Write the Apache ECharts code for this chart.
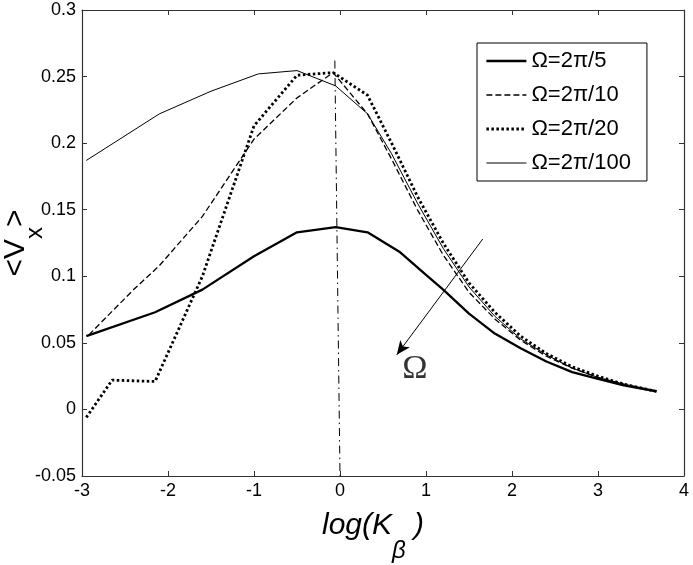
<!DOCTYPE html>
<html lang="en">
<head>
    <meta charset="UTF-8">
    <title>Vx vs log(K)</title>
    <style>
        html, body { margin: 0; padding: 0; background: #fff; }
        #main { width: 693px; height: 565px; }
    </style>
    <script src="https://cdn.jsdelivr.net/npm/echarts@6/dist/echarts.min.js"></script>
</head>
<body>
<div id="main"></div>
<script type="text/javascript">
    // values
    var xs5 = [-2.95, -2.15, -1.6, -1.0, -0.5, -0.05, 0.32, 0.7, 1.0, 1.2, 1.5, 1.8, 2.1, 2.4, 2.7, 3.0, 3.3, 3.68];
    var v5 = [0.055, 0.073, 0.09, 0.115, 0.133, 0.137, 0.133, 0.118, 0.101, 0.09, 0.072, 0.057, 0.046, 0.036, 0.028, 0.023, 0.018, 0.0135];

    var xs10 = [-2.92, -2.4, -2.1, -1.6, -1.0, -0.5, -0.08, 0.32, 0.6, 0.9, 1.2, 1.5, 1.8, 2.1, 2.4, 2.7, 3.0, 3.3, 3.68];
    var v10 = [0.056, 0.09, 0.108, 0.145, 0.203, 0.234, 0.253, 0.222, 0.188, 0.15, 0.116, 0.088, 0.068, 0.052, 0.040, 0.031, 0.024, 0.019, 0.0135];

    var xs20 = [-2.95, -2.65, -2.15, -1.6, -1.0, -0.5, -0.08, 0.32, 0.6, 0.9, 1.2, 1.5, 1.8, 2.1, 2.4, 2.7, 3.0, 3.3, 3.68];
    var v20 = [-0.006, 0.022, 0.021, 0.1, 0.213, 0.251, 0.253, 0.236, 0.2, 0.16, 0.125, 0.095, 0.073, 0.055, 0.042, 0.032, 0.025, 0.019, 0.0135];

    var xs100 = [-2.95, -2.1, -1.5, -0.95, -0.5, -0.05, 0.32, 0.6, 0.9, 1.2, 1.5, 1.8, 2.1, 2.4, 2.7, 3.0, 3.3, 3.68];
    var v100 = [0.187, 0.222, 0.239, 0.252, 0.2545, 0.243, 0.222, 0.192, 0.155, 0.121, 0.092, 0.07, 0.053, 0.041, 0.031, 0.024, 0.019, 0.014];

    var names = ['Ω=2π/5', 'Ω=2π/10', 'Ω=2π/20', 'Ω=2π/100'];

    // vertical dash-dot marker and the arrow
    var refX = [-0.06, 0.0];
    var refY = [0.262, -0.05];
    var arrowX = [1.66, 0.66];
    var arrowY = [0.128, 0.041];
    var omegaPos = [0.87, 0.03];

    function pairs(xs, ys) {
        var out = [];
        for (var i = 0; i < xs.length; i++) out.push([xs[i], ys[i]]);
        return out;
    }

    var myChart = echarts.init(document.getElementById('main'));
    var axisColor = '#333';
    var font = 'Liberation Sans, Arial, sans-serif';

    // frame axis (top / right) without labels
    function frameAxis(pos, min, max, interval) {
        return {
            type: 'value',
            position: pos,
            min: min, max: max, interval: interval,
            axisLine: { onZero: false, lineStyle: { color: axisColor, width: 1.2 } },
            axisTick: { inside: true, length: 5, lineStyle: { color: axisColor } },
            axisLabel: { show: false },
            splitLine: { show: false }
        };
    }

    var option = {
        animation: false,
        backgroundColor: '#fff',
        grid: { left: 82, right: 9, top: 10, bottom: 89, outerBoundsMode: 'none', containLabel: false },
        legend: {
            data: names,
            orient: 'vertical',
            left: 477,
            top: 43,
            padding: [7, 16, 7, 8],
            itemWidth: 40,
            itemHeight: 14,
            itemGap: 12,
            itemStyle: { opacity: 0 },
            lineStyle: { width: 'inherit' },
            borderColor: '#000',
            borderWidth: 1,
            backgroundColor: '#fff',
            textStyle: { fontFamily: font, fontSize: 22, lineHeight: 22, color: '#000' }
        },
        xAxis: [{
            type: 'value',
            min: -3, max: 4, interval: 1,
            name: '{a|log(K}{s|β}{a| )}',
            nameLocation: 'middle',
            nameGap: 35,
            nameMoveOverlap: false,
            nameTextStyle: {
                padding: [0, 20, 0, 0],
                rich: {
                    a: { fontFamily: font, fontStyle: 'italic', fontSize: 30, lineHeight: 30, verticalAlign: 'top', color: '#000' },
                    s: { fontFamily: font, fontStyle: 'italic', fontSize: 24, lineHeight: 52, verticalAlign: 'bottom', color: '#000' }
                }
            },
            axisLine: { onZero: false, lineStyle: { color: axisColor, width: 1.2 } },
            axisTick: { inside: true, length: 5, lineStyle: { color: axisColor } },
            axisLabel: { fontFamily: font, fontSize: 18, color: '#000', margin: 6 },
            splitLine: { show: false }
        }, frameAxis('top', -3, 4, 1)],
        yAxis: [{
            type: 'value',
            min: -0.05, max: 0.3, interval: 0.05,
            name: '{a|<V}{s|x}{a|>}',
            nameLocation: 'middle',
            nameRotate: 90,
            nameGap: 35,
            nameMoveOverlap: false,
            nameTextStyle: {
                rich: {
                    a: { fontFamily: font, fontSize: 30, lineHeight: 30, verticalAlign: 'top', color: '#000' },
                    s: { fontFamily: font, fontSize: 24, lineHeight: 46, verticalAlign: 'bottom', color: '#000' }
                }
            },
            axisLine: { onZero: false, lineStyle: { color: axisColor, width: 1.2 } },
            axisTick: { inside: true, length: 5, lineStyle: { color: axisColor } },
            axisLabel: {
                fontFamily: font, fontSize: 18, color: '#000', margin: 6,
                formatter: function (v) { return String(+v.toFixed(2)); }
            },
            splitLine: { show: false }
        }, frameAxis('right', -0.05, 0.3, 0.05)],
        series: [{
            name: names[0], type: 'line', symbol: 'none', color: '#000',
            lineStyle: { color: '#000', width: 2.3 },
            data: pairs(xs5, v5)
        }, {
            name: names[1], type: 'line', symbol: 'none', color: '#000',
            lineStyle: { color: '#000', width: 1.3, type: [6, 3] },
            data: pairs(xs10, v10)
        }, {
            name: names[2], type: 'line', symbol: 'none', color: '#000',
            lineStyle: { color: '#000', width: 2.8, type: [2.5, 2.5] },
            data: pairs(xs20, v20)
        }, {
            name: names[3], type: 'line', symbol: 'none', color: '#000',
            lineStyle: { color: '#000', width: 1 },
            data: pairs(xs100, v100)
        }, {
            name: 'marker', type: 'line', symbol: 'none',
            lineStyle: { color: '#000', width: 1, type: [8, 4, 1.5, 4] },
            data: pairs(refX, refY),
            markLine: {
                silent: true,
                symbol: ['none', 'arrow'],
                symbolSize: [9, 14],
                label: { show: false },
                lineStyle: { color: '#000', width: 1, type: 'solid' },
                data: [[{ coord: [arrowX[0], arrowY[0]] }, { coord: [arrowX[1], arrowY[1]] }]]
            }
        }, {
            name: 'omega', type: 'scatter', symbolSize: 0,
            data: [omegaPos],
            label: {
                show: true, position: 'inside', formatter: 'Ω',
                fontFamily: 'Liberation Serif, Times New Roman, serif', fontSize: 34, color: '#000'
            }
        }]
    };
    myChart.setOption(option);
</script>
</body>
</html>
